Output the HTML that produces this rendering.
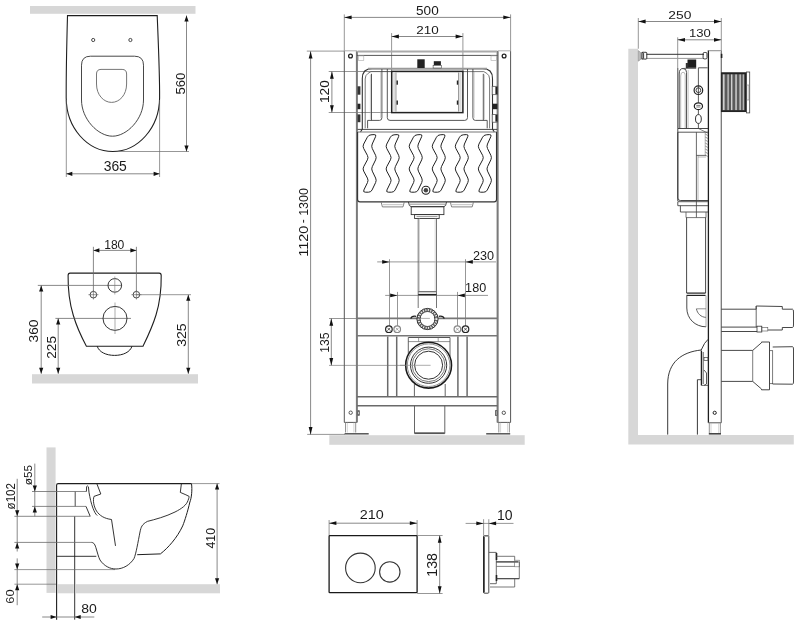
<!DOCTYPE html>
<html><head><meta charset="utf-8"><style>
html,body{margin:0;padding:0;background:#fff;}
svg{display:block;will-change:transform;}
text{font-family:"Liberation Sans",sans-serif;fill:#1a1a1a;}
</style></head><body>
<svg width="800" height="626" viewBox="0 0 800 626">
<rect width="800" height="626" fill="#fff"/>
<rect x="30" y="6" width="165.5" height="7.8" fill="#d7d7d7"/>
<path d="M67.5,15.6 L157.2,15.6 C158.4,45 159.8,75 159.6,98 C159.3,128 138,151.5 112.8,151.5 C87.5,151.5 66.4,128 66.2,98 C66.1,75 66.7,45 67.5,15.6 Z" stroke="#1e1e1e" stroke-width="1.1" fill="none" />
<circle cx="93.2" cy="40" r="1.6" stroke="#1e1e1e" stroke-width="0.8" fill="none"/>
<circle cx="130.4" cy="40" r="1.6" stroke="#1e1e1e" stroke-width="0.8" fill="none"/>
<path d="M90.5,56.2 L134.5,56.2 Q143.5,56.2 143.5,65.2 L143.5,100 C143.5,119 127,136.2 112.5,136.2 C98,136.2 81.5,119 81.5,100 L81.5,65.2 Q81.5,56.2 90.5,56.2 Z" stroke="#333" stroke-width="0.9" fill="none" />
<path d="M101,69.4 L122.1,69.4 Q126.6,69.4 126.6,74 L126.6,84 C126.6,95 119.5,102.4 111.6,102.4 C103.7,102.4 96.5,95 96.5,84 L96.5,74 Q96.5,69.4 101,69.4 Z" stroke="#666" stroke-width="0.9" fill="none" />
<line x1="66.3" y1="100" x2="66.3" y2="177" stroke="#6a6a6a" stroke-width="0.7" />
<line x1="159.6" y1="100" x2="159.6" y2="177" stroke="#6a6a6a" stroke-width="0.7" />
<line x1="66.3" y1="173.8" x2="159.6" y2="173.8" stroke="#6a6a6a" stroke-width="0.8" />
<polygon points="66.3,173.8 72.3,171.7 72.3,175.9" fill="#111"/>
<polygon points="159.6,173.8 153.6,171.7 153.6,175.9" fill="#111"/>
<text transform="translate(103.69,170.61) scale(1.011,1)" font-family="Liberation Sans" font-size="13.73">365</text>
<line x1="118" y1="151.5" x2="189" y2="151.5" stroke="#6a6a6a" stroke-width="0.7" />
<line x1="186.5" y1="15.6" x2="186.5" y2="151.5" stroke="#6a6a6a" stroke-width="0.8" />
<polygon points="186.5,15.6 184.4,21.6 188.6,21.6" fill="#111"/>
<polygon points="186.5,151.5 184.4,145.5 188.6,145.5" fill="#111"/>
<text transform="translate(184.58,94.62) rotate(-90) scale(1.059,1)" font-family="Liberation Sans" font-size="12.39">560</text>
<path d="M70.1,273.1 L159.2,273.1 Q161.2,273.1 161.2,275.5 C161.4,290 160,302 156,315 C152,328 147,338 143,346.2 L86.4,346.2 C82,338 77,328 73.2,315 C69.3,302 67.9,290 68.1,275.5 Q68.1,273.1 70.1,273.1 Z" stroke="#1e1e1e" stroke-width="1.1" fill="none" />
<path d="M97.2,346.2 C99,352 106,355.4 114.6,355.4 C123.2,355.4 130.2,352 132,346.2" stroke="#1e1e1e" stroke-width="1" fill="none" />
<line x1="37.8" y1="285.4" x2="122" y2="285.4" stroke="#6a6a6a" stroke-width="0.8" />
<circle cx="114.8" cy="285.4" r="6.8" stroke="#1e1e1e" stroke-width="0.9" fill="none"/>
<line x1="114.8" y1="276.5" x2="114.8" y2="294.5" stroke="#777" stroke-width="0.6" />
<line x1="55.4" y1="318.4" x2="131" y2="318.4" stroke="#555" stroke-width="0.7" />
<circle cx="115" cy="318.4" r="12" stroke="#1e1e1e" stroke-width="0.9" fill="none"/>
<line x1="115" y1="302.5" x2="115" y2="334" stroke="#777" stroke-width="0.6" />
<circle cx="93.4" cy="294.7" r="3.3" stroke="#1e1e1e" stroke-width="0.8" fill="none"/>
<line x1="88.4" y1="294.7" x2="98.4" y2="294.7" stroke="#555" stroke-width="0.6" />
<line x1="93.4" y1="290" x2="93.4" y2="299.5" stroke="#555" stroke-width="0.6" />
<circle cx="136.4" cy="294.7" r="3.3" stroke="#1e1e1e" stroke-width="0.8" fill="none"/>
<line x1="131.4" y1="294.7" x2="141.4" y2="294.7" stroke="#555" stroke-width="0.6" />
<line x1="136.4" y1="290" x2="136.4" y2="299.5" stroke="#555" stroke-width="0.6" />
<line x1="136.4" y1="294.7" x2="191" y2="294.7" stroke="#6a6a6a" stroke-width="0.7" />
<line x1="93.4" y1="246.8" x2="93.4" y2="291" stroke="#6a6a6a" stroke-width="0.8" />
<line x1="136.4" y1="246.8" x2="136.4" y2="291" stroke="#6a6a6a" stroke-width="0.8" />
<line x1="93.4" y1="250.4" x2="136.4" y2="250.4" stroke="#6a6a6a" stroke-width="0.8" />
<polygon points="93.4,250.4 99.4,248.3 99.4,252.5" fill="#111"/>
<polygon points="136.4,250.4 130.4,248.3 130.4,252.5" fill="#111"/>
<text transform="translate(104.15,248.62) scale(0.970,1)" font-family="Liberation Mono" font-size="12.50">180</text>
<rect x="32" y="374.2" width="166" height="9.3" fill="#d7d7d7"/>
<line x1="41.2" y1="285.4" x2="41.2" y2="373.8" stroke="#6a6a6a" stroke-width="0.8" />
<polygon points="41.2,285.4 39.1,291.4 43.3,291.4" fill="#111"/>
<polygon points="41.2,373.8 39.1,367.8 43.3,367.8" fill="#111"/>
<line x1="58.2" y1="318.4" x2="58.2" y2="373.8" stroke="#6a6a6a" stroke-width="0.8" />
<polygon points="58.2,318.4 56.1,324.4 60.3,324.4" fill="#111"/>
<polygon points="58.2,373.8 56.1,367.8 60.3,367.8" fill="#111"/>
<line x1="188.3" y1="294.7" x2="188.3" y2="373.8" stroke="#6a6a6a" stroke-width="0.8" />
<polygon points="188.3,294.7 186.2,300.7 190.4,300.7" fill="#111"/>
<polygon points="188.3,373.8 186.2,367.8 190.4,367.8" fill="#111"/>
<text transform="translate(38.07,342.56) rotate(-90) scale(1.071,1)" font-family="Liberation Sans" font-size="12.96">360</text>
<text transform="translate(56.17,358.79) rotate(-90) scale(1.099,1)" font-family="Liberation Sans" font-size="12.54">225</text>
<text transform="translate(185.87,346.87) rotate(-90) scale(1.079,1)" font-family="Liberation Sans" font-size="13.10">325</text>
<rect x="46.5" y="447.4" width="9.1" height="145.5" fill="#d7d7d7"/>
<rect x="57.6" y="584.2" width="16.2" height="9.1" fill="#d7d7d7"/>
<rect x="75.8" y="584.2" width="144.2" height="9.1" fill="#d7d7d7"/>
<path d="M56.6,619.7 L56.6,485.2 Q56.6,483.6 58.2,483.6 L191.5,483.6" stroke="#1e1e1e" stroke-width="1.1" fill="none" />
<line x1="191.5" y1="483.6" x2="219.5" y2="483.6" stroke="#6a6a6a" stroke-width="0.7" />
<line x1="74.7" y1="516.3" x2="74.7" y2="619.7" stroke="#1e1e1e" stroke-width="0.9" />
<line x1="75.2" y1="491.5" x2="75.2" y2="506.4" stroke="#1e1e1e" stroke-width="0.8" />
<line x1="32" y1="491.5" x2="86.4" y2="491.5" stroke="#6a6a6a" stroke-width="0.8" />
<line x1="32" y1="506.4" x2="86" y2="506.4" stroke="#6a6a6a" stroke-width="0.8" />
<line x1="14.4" y1="516.3" x2="90.2" y2="516.3" stroke="#6a6a6a" stroke-width="0.8" />
<line x1="14.4" y1="542.4" x2="91.5" y2="542.4" stroke="#6a6a6a" stroke-width="0.8" />
<line x1="14.4" y1="569.6" x2="115" y2="569.6" stroke="#6a6a6a" stroke-width="0.7" />
<line x1="14.4" y1="584.2" x2="56" y2="584.2" stroke="#6a6a6a" stroke-width="0.7" />
<line x1="56.6" y1="556.3" x2="96.3" y2="556.3" stroke="#1e1e1e" stroke-width="0.9" />
<path d="M86.4,491.5 L86.6,486.6 Q87.5,485.2 88.4,486.8 L89,492.4 C90,498 91,503 93,508.3 C94.5,512 95.5,514 97.2,515.5" stroke="#1e1e1e" stroke-width="0.9" fill="none" />
<path d="M86,506.4 L90.2,516.3" stroke="#1e1e1e" stroke-width="0.9" fill="none" />
<path d="M96.8,483.6 L100.8,494 L94,496.4 C92.8,500 93.5,506 96.5,511 C99.5,515.5 104,518.5 111.5,519.5 L115.5,545.9" stroke="#1e1e1e" stroke-width="0.9" fill="none" />
<path d="M91.5,542.4 C94,542.6 95,544.5 96.3,549 C97.5,553 98.5,557 100,560 C104,566 110,569 116,569 C123,569 130,565 134,558.5 C136,554 138,542 140,532 C141,527 142,524.3 147.4,521.4 C155,519.5 166,516.5 175,512 C182,508.5 186.5,505 188,500.5 C189,498 189.2,496.8 189.1,496.4 L185.9,494.8 L180.3,492.4 L181.4,483.6" stroke="#1e1e1e" stroke-width="0.9" fill="none" />
<path d="M191.5,483.6 C192.4,490 191.5,498 189.9,502 C187.5,512 185,520 182.7,525.9 C177,538 168,548 160.4,553.9 L137.2,554.7" stroke="#1e1e1e" stroke-width="1" fill="none" />
<line x1="34.8" y1="463.6" x2="34.8" y2="516.3" stroke="#6a6a6a" stroke-width="0.8" />
<polygon points="34.8,491.5 32.7,485.5 36.9,485.5" fill="#111"/>
<polygon points="34.8,506.4 32.7,512.4 36.9,512.4" fill="#111"/>
<line x1="17.2" y1="478.8" x2="17.2" y2="551.5" stroke="#6a6a6a" stroke-width="0.8" />
<polygon points="17.2,516.3 15.1,510.3 19.3,510.3" fill="#111"/>
<polygon points="17.2,542.4 15.1,548.4 19.3,548.4" fill="#111"/>
<line x1="17.2" y1="558.4" x2="17.2" y2="605.2" stroke="#6a6a6a" stroke-width="0.8" />
<polygon points="17.2,569.6 15.1,563.6 19.3,563.6" fill="#111"/>
<polygon points="17.2,584.2 15.1,590.2 19.3,590.2" fill="#111"/>
<text transform="translate(32.29,485.25) rotate(-90) scale(1.067,1)" font-family="Liberation Mono" font-size="11.04">ø55</text>
<text transform="translate(15.18,509.44) rotate(-90) scale(0.951,1)" font-family="Liberation Mono" font-size="12.21">ø102</text>
<text transform="translate(13.64,603.74) rotate(-90) scale(1.119,1)" font-family="Liberation Sans" font-size="11.48">60</text>
<line x1="42.2" y1="617" x2="94.3" y2="617" stroke="#6a6a6a" stroke-width="0.8" />
<polygon points="56.6,617 50.6,614.9 50.6,619.1" fill="#111"/>
<polygon points="74.7,617 80.7,614.9 80.7,619.1" fill="#111"/>
<text transform="translate(81.27,612.98) scale(1.143,1)" font-family="Liberation Sans" font-size="12.25">80</text>
<line x1="217.1" y1="483.6" x2="217.1" y2="584.2" stroke="#6a6a6a" stroke-width="0.8" />
<polygon points="217.1,483.6 215.0,489.6 219.2,489.6" fill="#111"/>
<polygon points="217.1,584.2 215.0,578.2 219.2,578.2" fill="#111"/>
<text transform="translate(214.87,548.62) rotate(-90) scale(0.939,1)" font-family="Liberation Mono" font-size="13.24">410</text>
<line x1="344.3" y1="14.4" x2="344.3" y2="51" stroke="#6a6a6a" stroke-width="0.7" />
<line x1="510.6" y1="14.4" x2="510.6" y2="51" stroke="#6a6a6a" stroke-width="0.7" />
<line x1="344.3" y1="17.4" x2="510.6" y2="17.4" stroke="#6a6a6a" stroke-width="0.8" />
<polygon points="344.3,17.4 351.6,15.5 351.6,19.3" fill="#111"/>
<polygon points="510.6,17.4 503.3,15.5 503.3,19.3" fill="#111"/>
<text transform="translate(416.06,14.63) scale(1.133,1)" font-family="Liberation Sans" font-size="11.97">500</text>
<line x1="391.6" y1="33.1" x2="391.6" y2="71.5" stroke="#6a6a6a" stroke-width="0.7" />
<line x1="462.9" y1="33.1" x2="462.9" y2="71.5" stroke="#6a6a6a" stroke-width="0.7" />
<line x1="391.6" y1="36.5" x2="462.9" y2="36.5" stroke="#6a6a6a" stroke-width="0.8" />
<polygon points="391.6,36.5 398.9,34.6 398.9,38.4" fill="#111"/>
<polygon points="462.9,36.5 455.6,34.6 455.6,38.4" fill="#111"/>
<text transform="translate(416.23,33.88) scale(1.138,1)" font-family="Liberation Sans" font-size="11.83">210</text>
<line x1="306.8" y1="51.1" x2="344.3" y2="51.1" stroke="#6a6a6a" stroke-width="0.7" />
<line x1="307.2" y1="434.4" x2="345" y2="434.4" stroke="#6a6a6a" stroke-width="0.7" />
<line x1="310.6" y1="51.3" x2="310.6" y2="434.4" stroke="#6a6a6a" stroke-width="0.8" />
<polygon points="310.6,51.3 308.7,58.6 312.5,58.6" fill="#111"/>
<polygon points="310.6,434.4 308.7,427.1 312.5,427.1" fill="#111"/>
<text transform="translate(308.08,215.83) rotate(-90) scale(1.029,1)" font-family="Liberation Sans" font-size="12.11">1300</text>
<text transform="translate(308.08,256.78) rotate(-90) scale(1.193,1)" font-family="Liberation Sans" font-size="12.11">1120</text>
<line x1="303.6" y1="219.8" x2="303.6" y2="222.7" stroke="#1a1a1a" stroke-width="1.0" />
<line x1="328.7" y1="71.5" x2="391.6" y2="71.5" stroke="#6a6a6a" stroke-width="0.7" />
<line x1="328.7" y1="112.5" x2="391.6" y2="112.5" stroke="#6a6a6a" stroke-width="0.7" />
<line x1="331.9" y1="71.5" x2="331.9" y2="112.5" stroke="#6a6a6a" stroke-width="0.8" />
<polygon points="331.9,71.5 330.0,78.8 333.8,78.8" fill="#111"/>
<polygon points="331.9,112.5 330.0,105.2 333.8,105.2" fill="#111"/>
<text transform="translate(328.88,103.03) rotate(-90) scale(1.129,1)" font-family="Liberation Sans" font-size="12.11">120</text>
<line x1="329" y1="318.5" x2="357" y2="318.5" stroke="#6a6a6a" stroke-width="0.7" />
<line x1="329" y1="365.4" x2="428" y2="365.4" stroke="#666" stroke-width="0.6" />
<line x1="331.3" y1="318.5" x2="331.3" y2="365.4" stroke="#6a6a6a" stroke-width="0.8" />
<polygon points="331.3,318.5 329.4,325.8 333.2,325.8" fill="#111"/>
<polygon points="331.3,365.4 329.4,358.1 333.2,358.1" fill="#111"/>
<text transform="translate(328.58,352.85) rotate(-90) scale(0.994,1)" font-family="Liberation Mono" font-size="12.21">135</text>
<line x1="377.2" y1="261.9" x2="496" y2="261.9" stroke="#6a6a6a" stroke-width="0.7" />
<polygon points="389.5,261.9 382.2,260.0 382.2,263.8" fill="#111"/>
<polygon points="465.5,261.9 472.8,260.0 472.8,263.8" fill="#111"/>
<text transform="translate(473.02,259.68) scale(1.048,1)" font-family="Liberation Mono" font-size="12.06">230</text>
<line x1="385.2" y1="295.4" x2="488" y2="295.4" stroke="#6a6a6a" stroke-width="0.7" />
<polygon points="397.5,295.4 390.2,293.5 390.2,297.3" fill="#111"/>
<polygon points="457.5,295.4 464.8,293.5 464.8,297.3" fill="#111"/>
<text transform="translate(465.12,292.38) scale(1.023,1)" font-family="Liberation Mono" font-size="12.35">180</text>
<line x1="389.5" y1="259.2" x2="389.5" y2="326" stroke="#6a6a6a" stroke-width="0.7" />
<line x1="397.5" y1="291.9" x2="397.5" y2="326" stroke="#6a6a6a" stroke-width="0.7" />
<line x1="457.5" y1="291.9" x2="457.5" y2="326" stroke="#6a6a6a" stroke-width="0.7" />
<line x1="465.5" y1="259.2" x2="465.5" y2="326" stroke="#6a6a6a" stroke-width="0.7" />
<rect x="329.3" y="435.2" width="195.4" height="9.6" fill="#d7d7d7"/>
<line x1="344.3" y1="51.1" x2="344.3" y2="422.4" stroke="#555" stroke-width="1.0" />
<line x1="344.3" y1="422.4" x2="356.9" y2="422.4" stroke="#555" stroke-width="1.0" />
<line x1="345.5" y1="422.4" x2="345.5" y2="432.5" stroke="#888" stroke-width="0.9" />
<line x1="355.7" y1="422.4" x2="355.7" y2="432.5" stroke="#888" stroke-width="0.9" />
<line x1="347.3" y1="422.6" x2="347.3" y2="432.5" stroke="#bbb" stroke-width="0.6" />
<line x1="353.9" y1="422.6" x2="353.9" y2="432.5" stroke="#bbb" stroke-width="0.6" />
<line x1="497.6" y1="51.1" x2="497.6" y2="422.4" stroke="#555" stroke-width="1.0" />
<line x1="497.6" y1="422.4" x2="510.6" y2="422.4" stroke="#555" stroke-width="1.0" />
<line x1="498.8" y1="422.4" x2="498.8" y2="432.5" stroke="#888" stroke-width="0.9" />
<line x1="509.40000000000003" y1="422.4" x2="509.40000000000003" y2="432.5" stroke="#888" stroke-width="0.9" />
<line x1="500.6" y1="422.6" x2="500.6" y2="432.5" stroke="#bbb" stroke-width="0.6" />
<line x1="507.6" y1="422.6" x2="507.6" y2="432.5" stroke="#bbb" stroke-width="0.6" />
<line x1="356.9" y1="51.3" x2="356.9" y2="422.4" stroke="#7a7a7a" stroke-width="2.0" />
<line x1="497.6" y1="51.3" x2="497.6" y2="422.4" stroke="#7a7a7a" stroke-width="2.0" />
<line x1="510.6" y1="51.1" x2="510.6" y2="422.4" stroke="#555" stroke-width="1.0" />
<line x1="344.6" y1="433.8" x2="368.7" y2="433.8" stroke="#555" stroke-width="1.5" />
<line x1="486.2" y1="433.8" x2="510.2" y2="433.8" stroke="#555" stroke-width="1.5" />
<circle cx="350.5" cy="56" r="1.9" stroke="#222" stroke-width="1.3" fill="none"/>
<circle cx="504.1" cy="56" r="1.9" stroke="#222" stroke-width="1.3" fill="none"/>
<circle cx="350.7" cy="412.7" r="1.7" stroke="#333" stroke-width="0.8" fill="none"/>
<circle cx="503.8" cy="412.8" r="1.7" stroke="#333" stroke-width="0.8" fill="none"/>
<rect x="357.9" y="410.7" width="1.4" height="4.6" fill="#fff" stroke="#333" stroke-width="0.7" rx="0" />
<rect x="495.5" y="410.7" width="1.4" height="4.6" fill="#fff" stroke="#333" stroke-width="0.7" rx="0" />
<line x1="357.5" y1="51.5" x2="497" y2="51.5" stroke="#aaa" stroke-width="2.2" />
<line x1="344.3" y1="50.8" x2="357" y2="50.8" stroke="#999" stroke-width="0.8" />
<line x1="497.6" y1="50.8" x2="510.6" y2="50.8" stroke="#999" stroke-width="0.8" />
<line x1="356.9" y1="55.4" x2="497.6" y2="55.4" stroke="#555" stroke-width="1.0" />
<rect x="358.4" y="55.9" width="5.4" height="4.6" fill="none" stroke="#aaa" stroke-width="0.6" rx="0" />
<rect x="491.0" y="55.9" width="5.4" height="4.6" fill="none" stroke="#aaa" stroke-width="0.6" rx="0" />
<path d="M360.5,132 L362.3,129 L362.3,78.5 Q362.3,68.6 372.2,68.6 L482.6,68.6 Q492.5,68.6 492.5,78.5 L492.5,129 L494.3,132" stroke="#333" stroke-width="1.1" fill="none" />
<path d="M365.2,128.3 L365.2,79 Q365.2,75.2 368,73.4 L371,71.6 L483.8,71.6 L486.8,73.4 Q489.6,75.2 489.6,79 L489.6,128.3" stroke="#555" stroke-width="0.8" fill="none" />
<line x1="368" y1="68.6" x2="487" y2="68.6" stroke="#999" stroke-width="1.6" />
<path d="M381.9,69 L381.9,117.6 Q381.9,120.4 379.5,120.4 L367.6,120.4 L367.6,128.3" stroke="#444" stroke-width="0.9" fill="none" />
<line x1="380.7" y1="72" x2="380.7" y2="118" stroke="#aaa" stroke-width="0.6" />
<line x1="371.5" y1="73.8" x2="371.5" y2="120.4" stroke="#444" stroke-width="0.9" />
<line x1="370.4" y1="74.5" x2="370.4" y2="119.5" stroke="#aaa" stroke-width="0.6" />
<path d="M472.9,69 L472.9,117.6 Q472.9,120.4 475.3,120.4 L487.2,120.4 L487.2,128.3" stroke="#444" stroke-width="0.9" fill="none" />
<line x1="474.1" y1="72" x2="474.1" y2="118" stroke="#aaa" stroke-width="0.6" />
<line x1="483.3" y1="73.8" x2="483.3" y2="120.4" stroke="#444" stroke-width="0.9" />
<line x1="484.4" y1="74.5" x2="484.4" y2="119.5" stroke="#aaa" stroke-width="0.6" />
<path d="M387.3,69 L387.3,117.6 Q387.3,120.4 390,120.4 L464.8,120.4 Q467.5,120.4 467.5,117.6 L467.5,69" stroke="#444" stroke-width="0.9" fill="none" />
<rect x="391.7" y="71.4" width="71.2" height="41.2" fill="none" stroke="#222" stroke-width="1.5" rx="0" />
<line x1="395.9" y1="72.5" x2="395.9" y2="111.6" stroke="#777" stroke-width="0.9" />
<line x1="458.7" y1="72.5" x2="458.7" y2="111.6" stroke="#777" stroke-width="0.9" />
<rect x="393.2" y="72.3" width="2.2" height="39.4" fill="#ddd" stroke="none" stroke-width="0" rx="0" />
<rect x="459.3" y="72.3" width="2.2" height="39.4" fill="#ddd" stroke="none" stroke-width="0" rx="0" />
<rect x="396.5" y="80.5" width="1.4" height="4.2" fill="#222" stroke="none" stroke-width="0" rx="0" />
<rect x="456.8" y="80.5" width="1.4" height="4.2" fill="#222" stroke="none" stroke-width="0" rx="0" />
<rect x="396.5" y="100.5" width="1.4" height="4.2" fill="#222" stroke="none" stroke-width="0" rx="0" />
<rect x="456.8" y="100.5" width="1.4" height="4.2" fill="#222" stroke="none" stroke-width="0" rx="0" />
<rect x="417.3" y="59.3" width="7.4" height="8.7" fill="#222" stroke="none" stroke-width="0" rx="0" />
<rect x="433.8" y="61.2" width="7.1" height="4.2" fill="#222" stroke="none" stroke-width="0" rx="0" />
<rect x="433.1" y="65.4" width="8.5" height="2.6" fill="#fff" stroke="#444" stroke-width="0.6" rx="0" />
<rect x="357.5" y="86.3" width="2.9" height="8.400000000000006" fill="#333" stroke="none" stroke-width="0" rx="0" />
<rect x="492.2" y="86.3" width="5.2" height="8.400000000000006" fill="#fff" stroke="#444" stroke-width="0.7" rx="0" />
<rect x="495.4" y="86.8" width="2" height="7.400000000000006" fill="#222" stroke="none" stroke-width="0" rx="0" />
<rect x="357.5" y="103.7" width="2.9" height="5.5" fill="#222" stroke="none" stroke-width="0" rx="0" />
<rect x="492.2" y="103.7" width="5.2" height="5.5" fill="#222" stroke="none" stroke-width="0" rx="0" />
<rect x="357.5" y="114.4" width="2.9" height="7.799999999999997" fill="#333" stroke="none" stroke-width="0" rx="0" />
<rect x="492.2" y="114.4" width="5.2" height="7.799999999999997" fill="#fff" stroke="#444" stroke-width="0.7" rx="0" />
<rect x="495.4" y="114.9" width="2" height="6.799999999999997" fill="#222" stroke="none" stroke-width="0" rx="0" />
<line x1="357.5" y1="129.4" x2="497.2" y2="129.4" stroke="#333" stroke-width="0.9" />
<line x1="357.5" y1="132" x2="497.2" y2="132" stroke="#777" stroke-width="1.0" />
<path d="M357.6,132 L357.6,199.6 Q357.6,201.9 359.9,201.9 L494.2,201.9 Q496.5,201.9 496.5,199.6 L496.5,132" stroke="#333" stroke-width="1.1" fill="none" />
<path d="M374.11,134.58 Q376.60,134.40 375.57,136.68 L372.23,144.02 Q371.20,146.30 372.29,148.55 L375.61,155.35 Q376.70,157.60 375.61,159.85 L372.29,166.65 Q371.20,168.90 372.29,171.15 L375.61,178.05 Q376.70,180.30 375.62,182.55 L372.08,189.95 Q371.00,192.20 368.50,192.20 L365.30,192.20 Q362.80,192.20 363.90,189.95 L367.50,182.55 Q368.60,180.30 367.42,178.10 L363.68,171.10 Q362.50,168.90 363.69,166.70 L367.41,159.80 Q368.60,157.60 367.41,155.40 L363.69,148.50 Q362.50,146.30 363.67,144.09 L367.33,137.21 Q368.50,135.00 370.99,134.82 Z" stroke="#222" stroke-width="1.0" fill="none" />
<path d="M397.16,134.58 Q399.65,134.40 398.62,136.68 L395.28,144.02 Q394.25,146.30 395.34,148.55 L398.66,155.35 Q399.75,157.60 398.66,159.85 L395.34,166.65 Q394.25,168.90 395.34,171.15 L398.66,178.05 Q399.75,180.30 398.67,182.55 L395.13,189.95 Q394.05,192.20 391.55,192.20 L388.35,192.20 Q385.85,192.20 386.95,189.95 L390.55,182.55 Q391.65,180.30 390.47,178.10 L386.73,171.10 Q385.55,168.90 386.74,166.70 L390.46,159.80 Q391.65,157.60 390.46,155.40 L386.74,148.50 Q385.55,146.30 386.72,144.09 L390.38,137.21 Q391.55,135.00 394.04,134.82 Z" stroke="#222" stroke-width="1.0" fill="none" />
<path d="M420.21,134.58 Q422.70,134.40 421.67,136.68 L418.33,144.02 Q417.30,146.30 418.39,148.55 L421.71,155.35 Q422.80,157.60 421.71,159.85 L418.39,166.65 Q417.30,168.90 418.39,171.15 L421.71,178.05 Q422.80,180.30 421.72,182.55 L418.18,189.95 Q417.10,192.20 414.60,192.20 L411.40,192.20 Q408.90,192.20 410.00,189.95 L413.60,182.55 Q414.70,180.30 413.52,178.10 L409.78,171.10 Q408.60,168.90 409.79,166.70 L413.51,159.80 Q414.70,157.60 413.51,155.40 L409.79,148.50 Q408.60,146.30 409.77,144.09 L413.43,137.21 Q414.60,135.00 417.09,134.82 Z" stroke="#222" stroke-width="1.0" fill="none" />
<path d="M443.26,134.58 Q445.75,134.40 444.72,136.68 L441.38,144.02 Q440.35,146.30 441.44,148.55 L444.76,155.35 Q445.85,157.60 444.76,159.85 L441.44,166.65 Q440.35,168.90 441.44,171.15 L444.76,178.05 Q445.85,180.30 444.77,182.55 L441.23,189.95 Q440.15,192.20 437.65,192.20 L434.45,192.20 Q431.95,192.20 433.05,189.95 L436.65,182.55 Q437.75,180.30 436.57,178.10 L432.83,171.10 Q431.65,168.90 432.84,166.70 L436.56,159.80 Q437.75,157.60 436.56,155.40 L432.84,148.50 Q431.65,146.30 432.82,144.09 L436.48,137.21 Q437.65,135.00 440.14,134.82 Z" stroke="#222" stroke-width="1.0" fill="none" />
<path d="M466.31,134.58 Q468.80,134.40 467.77,136.68 L464.43,144.02 Q463.40,146.30 464.49,148.55 L467.81,155.35 Q468.90,157.60 467.81,159.85 L464.49,166.65 Q463.40,168.90 464.49,171.15 L467.81,178.05 Q468.90,180.30 467.82,182.55 L464.28,189.95 Q463.20,192.20 460.70,192.20 L457.50,192.20 Q455.00,192.20 456.10,189.95 L459.70,182.55 Q460.80,180.30 459.62,178.10 L455.88,171.10 Q454.70,168.90 455.89,166.70 L459.61,159.80 Q460.80,157.60 459.61,155.40 L455.89,148.50 Q454.70,146.30 455.87,144.09 L459.53,137.21 Q460.70,135.00 463.19,134.82 Z" stroke="#222" stroke-width="1.0" fill="none" />
<path d="M489.36,134.58 Q491.85,134.40 490.82,136.68 L487.48,144.02 Q486.45,146.30 487.54,148.55 L490.86,155.35 Q491.95,157.60 490.86,159.85 L487.54,166.65 Q486.45,168.90 487.54,171.15 L490.86,178.05 Q491.95,180.30 490.87,182.55 L487.33,189.95 Q486.25,192.20 483.75,192.20 L480.55,192.20 Q478.05,192.20 479.15,189.95 L482.75,182.55 Q483.85,180.30 482.67,178.10 L478.93,171.10 Q477.75,168.90 478.94,166.70 L482.66,159.80 Q483.85,157.60 482.66,155.40 L478.94,148.50 Q477.75,146.30 478.92,144.09 L482.58,137.21 Q483.75,135.00 486.24,134.82 Z" stroke="#222" stroke-width="1.0" fill="none" />
<circle cx="425.9" cy="190.3" r="4.0" stroke="#222" stroke-width="1.1" fill="none"/>
<circle cx="425.9" cy="190.3" r="2.2" stroke="#1e1e1e" stroke-width="0" fill="#444"/>
<path d="M381.2,202.3 L382.4,206.9 L403.0,206.9 L404.2,202.3" stroke="#666" stroke-width="0.8" fill="none" />
<line x1="382.7" y1="204.6" x2="402.7" y2="204.6" stroke="#ccc" stroke-width="1.2" />
<path d="M450.4,202.3 L451.59999999999997,206.9 L472.2,206.9 L473.4,202.3" stroke="#666" stroke-width="0.8" fill="none" />
<line x1="451.9" y1="204.6" x2="471.9" y2="204.6" stroke="#ccc" stroke-width="1.2" />
<path d="M408.4,202 Q409,206.7 411.2,206.7 L443.9,206.7 Q446,206.7 446.5,202" stroke="#333" stroke-width="0.9" fill="none" />
<line x1="409.2" y1="204.2" x2="445.8" y2="204.2" stroke="#888" stroke-width="0.9" />
<rect x="411.2" y="206.7" width="32.7" height="7.9" fill="none" stroke="#333" stroke-width="0.9" rx="0" />
<rect x="414.6" y="214.6" width="24.6" height="3.9" fill="none" stroke="#333" stroke-width="0.9" rx="0" />
<line x1="416.5" y1="216.6" x2="437.5" y2="216.6" stroke="#999" stroke-width="1.0" />
<line x1="418.2" y1="218.5" x2="418.2" y2="308" stroke="#666" stroke-width="0.9" />
<line x1="419.5" y1="218.5" x2="419.5" y2="291" stroke="#bbb" stroke-width="0.6" />
<line x1="436.5" y1="218.5" x2="436.5" y2="308" stroke="#666" stroke-width="0.9" />
<line x1="435.2" y1="218.5" x2="435.2" y2="291" stroke="#bbb" stroke-width="0.6" />
<rect x="418.2" y="291.1" width="18.3" height="1.2" fill="#666" stroke="none" stroke-width="0" rx="0" />
<rect x="418.2" y="293.9" width="18.3" height="1.4" fill="#222" stroke="none" stroke-width="0" rx="0" />
<line x1="357" y1="318.4" x2="497.6" y2="318.4" stroke="#777" stroke-width="1.6" />
<line x1="357" y1="335.8" x2="497.6" y2="335.8" stroke="#777" stroke-width="1.5" />
<circle cx="427.5" cy="319" r="9.0" stroke="#666" stroke-width="3.0" fill="none"/>
<circle cx="427.5" cy="319" r="9.0" stroke="#fff" stroke-width="3.2" fill="none" stroke-dasharray="0.9 1.6"/>
<circle cx="427.5" cy="319" r="10.6" stroke="#333" stroke-width="1.0" fill="none"/>
<circle cx="427.5" cy="319" r="7.4" stroke="#333" stroke-width="1.0" fill="none"/>
<circle cx="427.5" cy="319" r="6.8" stroke="#1e1e1e" stroke-width="0" fill="#fff"/>
<line x1="420.4" y1="318.4" x2="429.9" y2="318.4" stroke="#999" stroke-width="0.8" />
<path d="M410.8,318.6 Q411.5,315.6 416.2,316.3" stroke="#222" stroke-width="1.3" fill="none" />
<path d="M444.2,318.6 Q443.5,315.6 438.8,316.3" stroke="#222" stroke-width="1.3" fill="none" />
<circle cx="388.9" cy="329.2" r="3.3" stroke="#222" stroke-width="1.2" fill="none"/>
<line x1="387.4" y1="327.7" x2="390.4" y2="330.7" stroke="#222" stroke-width="0.7" />
<line x1="387.4" y1="330.7" x2="390.4" y2="327.7" stroke="#222" stroke-width="0.7" />
<circle cx="397.2" cy="329.2" r="3.3" stroke="#888" stroke-width="1.2" fill="none"/>
<line x1="395.7" y1="327.7" x2="398.7" y2="330.7" stroke="#888" stroke-width="0.7" />
<line x1="395.7" y1="330.7" x2="398.7" y2="327.7" stroke="#888" stroke-width="0.7" />
<circle cx="457.4" cy="329.2" r="3.3" stroke="#888" stroke-width="1.2" fill="none"/>
<line x1="455.9" y1="327.7" x2="458.9" y2="330.7" stroke="#888" stroke-width="0.7" />
<line x1="455.9" y1="330.7" x2="458.9" y2="327.7" stroke="#888" stroke-width="0.7" />
<circle cx="465.5" cy="329.2" r="3.3" stroke="#222" stroke-width="1.2" fill="none"/>
<line x1="464.0" y1="327.7" x2="467.0" y2="330.7" stroke="#222" stroke-width="0.7" />
<line x1="464.0" y1="330.7" x2="467.0" y2="327.7" stroke="#222" stroke-width="0.7" />
<line x1="387.7" y1="336.5" x2="387.7" y2="396.6" stroke="#6a6a6a" stroke-width="1.5" />
<line x1="396.7" y1="336.5" x2="396.7" y2="396.6" stroke="#6a6a6a" stroke-width="1.5" />
<line x1="457.9" y1="336.5" x2="457.9" y2="396.6" stroke="#6a6a6a" stroke-width="1.5" />
<line x1="467.1" y1="336.5" x2="467.1" y2="396.6" stroke="#6a6a6a" stroke-width="1.5" />
<line x1="408.3" y1="337.5" x2="450" y2="337.5" stroke="#555" stroke-width="1.0" />
<line x1="408.3" y1="341.6" x2="450" y2="341.6" stroke="#888" stroke-width="0.9" />
<line x1="418.6" y1="337.8" x2="418.6" y2="341.6" stroke="#777" stroke-width="0.7" />
<line x1="438.2" y1="337.8" x2="438.2" y2="341.6" stroke="#777" stroke-width="0.7" />
<line x1="408.3" y1="337.5" x2="408.3" y2="356" stroke="#555" stroke-width="0.9" />
<line x1="450" y1="337.5" x2="450" y2="356" stroke="#555" stroke-width="0.9" />
<circle cx="428.6" cy="365.2" r="21.8" stroke="#fff" stroke-width="3.4" fill="#fff"/>
<circle cx="428.6" cy="365.2" r="22.9" stroke="#1a1a1a" stroke-width="1.6" fill="none"/>
<circle cx="428.6" cy="365.2" r="21.3" stroke="#666" stroke-width="0.7" fill="none"/>
<circle cx="428.6" cy="365.2" r="18.1" stroke="#333" stroke-width="1.0" fill="none"/>
<circle cx="428.6" cy="365.2" r="16.4" stroke="#555" stroke-width="0.8" fill="none"/>
<circle cx="428.6" cy="365.2" r="14.0" stroke="#333" stroke-width="1.0" fill="none"/>
<line x1="400" y1="365.3" x2="430.6" y2="365.3" stroke="#888" stroke-width="0.7" />
<line x1="414.4" y1="384" x2="414.4" y2="396.6" stroke="#555" stroke-width="0.9" />
<line x1="445.2" y1="384" x2="445.2" y2="396.6" stroke="#555" stroke-width="0.9" />
<line x1="357" y1="396.7" x2="497.6" y2="396.7" stroke="#6a6a6a" stroke-width="1.5" />
<line x1="357" y1="405.8" x2="497.6" y2="405.8" stroke="#6a6a6a" stroke-width="1.5" />
<line x1="414.5" y1="405.8" x2="414.5" y2="433.5" stroke="#555" stroke-width="0.9" />
<line x1="444.8" y1="405.8" x2="444.8" y2="433.5" stroke="#555" stroke-width="0.9" />
<line x1="414.5" y1="433.2" x2="444.8" y2="433.2" stroke="#555" stroke-width="1.8" />
<path d="M628.3,48.7 L638,48.7 L638,435.1 L793.8,435.1 L793.8,444.6 L628.3,444.6 Z" fill="#d7d7d7"/>
<line x1="638.3" y1="18" x2="638.3" y2="48.7" stroke="#6a6a6a" stroke-width="0.7" />
<line x1="721.3" y1="18" x2="721.3" y2="50.2" stroke="#6a6a6a" stroke-width="0.7" />
<line x1="638.3" y1="21.5" x2="721.3" y2="21.5" stroke="#6a6a6a" stroke-width="0.8" />
<polygon points="638.3,21.5 645.6,19.6 645.6,23.4" fill="#111"/>
<polygon points="721.3,21.5 714.0,19.6 714.0,23.4" fill="#111"/>
<text transform="translate(668.31,18.78) scale(1.181,1)" font-family="Liberation Sans" font-size="11.69">250</text>
<line x1="677.7" y1="37.3" x2="677.7" y2="68" stroke="#6a6a6a" stroke-width="0.7" />
<line x1="677.7" y1="39.8" x2="721.3" y2="39.8" stroke="#6a6a6a" stroke-width="0.8" />
<polygon points="677.7,39.8 685.0,37.9 685.0,41.7" fill="#111"/>
<polygon points="721.3,39.8 714.0,37.9 714.0,41.7" fill="#111"/>
<text transform="translate(689.02,37.48) scale(1.134,1)" font-family="Liberation Sans" font-size="11.55">130</text>
<line x1="646.5" y1="54.3" x2="704" y2="54.3" stroke="#333" stroke-width="1.0" />
<line x1="646.5" y1="58.4" x2="704" y2="58.4" stroke="#999" stroke-width="1.0" />
<path d="M638.3,50.6 L640.6,52.5 L640.6,59.5 L638.3,61.2 Z" stroke="#777" stroke-width="0.5" fill="#bbb" />
<path d="M643.6,52.1 L642,52.6 L641.9,58.8 L643.6,59.3" stroke="#222" stroke-width="1.1" fill="none" />
<rect x="643.6" y="52.3" width="3.2" height="6.8" fill="none" stroke="#222" stroke-width="0.9" rx="0.8" />
<rect x="703.1" y="52.5" width="3.9" height="6.4" fill="none" stroke="#222" stroke-width="0.9" rx="1.2" />
<line x1="708.4" y1="50.2" x2="708.4" y2="422.8" stroke="#1e1e1e" stroke-width="1.3" />
<line x1="721.3" y1="50.2" x2="721.3" y2="422.8" stroke="#777" stroke-width="1.3" />
<line x1="708.4" y1="50.6" x2="721.3" y2="50.6" stroke="#999" stroke-width="1.0" />
<line x1="709" y1="51.6" x2="721" y2="51.6" stroke="#ddd" stroke-width="0.8" />
<line x1="708.4" y1="422.8" x2="721.3" y2="422.8" stroke="#555" stroke-width="1.0" />
<line x1="709.3" y1="422.8" x2="709.3" y2="433" stroke="#888" stroke-width="0.9" />
<line x1="720.4" y1="422.8" x2="720.4" y2="433" stroke="#888" stroke-width="0.9" />
<line x1="711" y1="423" x2="711" y2="433" stroke="#bbb" stroke-width="0.6" />
<line x1="718.7" y1="423" x2="718.7" y2="433" stroke="#bbb" stroke-width="0.6" />
<line x1="708.8" y1="433.8" x2="721" y2="433.8" stroke="#444" stroke-width="1.6" />
<circle cx="714.7" cy="412.8" r="1.6" stroke="#222" stroke-width="1.0" fill="none"/>
<line x1="721.6" y1="53.8" x2="721.6" y2="58" stroke="#222" stroke-width="1.6" />
<rect x="687.5" y="59.5" width="8.7" height="8.3" fill="#1e1e1e" stroke="none" stroke-width="0" rx="0" />
<rect x="685.8" y="63" width="2.5" height="5" fill="#333" stroke="none" stroke-width="0" rx="0" />
<line x1="683.5" y1="68.4" x2="696.2" y2="68.4" stroke="#444" stroke-width="0.8" />
<path d="M679.2,128.5 L679.2,74 Q679.2,68.5 683,68.5 Q686.6,68.5 686.6,72.5 L686.6,128.5" stroke="#333" stroke-width="0.9" fill="none" />
<path d="M680.7,128.5 L680.7,76 Q680.7,72.2 683,72.2 Q685.2,72.2 685.2,75 L685.2,128.5" stroke="#888" stroke-width="0.6" fill="none" />
<line x1="688.2" y1="70" x2="688.2" y2="128.5" stroke="#aaa" stroke-width="0.6" />
<line x1="677.8" y1="68" x2="677.8" y2="201" stroke="#333" stroke-width="0.9" />
<line x1="698.4" y1="67.8" x2="707.7" y2="67.8" stroke="#444" stroke-width="0.9" />
<line x1="698.4" y1="67.8" x2="698.4" y2="128.5" stroke="#333" stroke-width="0.8" />
<circle cx="698.4" cy="90.2" r="4.3" stroke="#222" stroke-width="1.2" fill="none"/>
<circle cx="698.4" cy="90.2" r="2.4" stroke="#333" stroke-width="0.9" fill="none"/>
<ellipse cx="698.4" cy="106.2" rx="4.1" ry="3.4" stroke="#1e1e1e" stroke-width="1.2" fill="#fff"/>
<line x1="696.3" y1="105.4" x2="700.5" y2="105.4" stroke="#444" stroke-width="0.7" />
<line x1="696.3" y1="107" x2="700.5" y2="107" stroke="#444" stroke-width="0.7" />
<ellipse cx="698.4" cy="119" rx="2.9" ry="4.4" stroke="#333" stroke-width="1.0" fill="#fff"/>
<line x1="678" y1="128.5" x2="708" y2="128.5" stroke="#333" stroke-width="0.9" />
<path d="M698.4,128.5 L707.7,133" stroke="#555" stroke-width="0.7" fill="none" />
<line x1="678" y1="132.2" x2="708" y2="132.2" stroke="#444" stroke-width="0.9" />
<rect x="721.4" y="72.9" width="25.2" height="38.7" fill="#5a5a5a" stroke="#222" stroke-width="0.9" rx="0" />
<rect x="723.0" y="74.2" width="1.6" height="36.1" fill="#cfcfcf" stroke="none" stroke-width="0" rx="0" />
<rect x="727.5" y="74.2" width="1.2" height="36.1" fill="#cfcfcf" stroke="none" stroke-width="0" rx="0" />
<rect x="731.0" y="74.2" width="1.4" height="36.1" fill="#cfcfcf" stroke="none" stroke-width="0" rx="0" />
<rect x="735.3" y="74.2" width="1.5" height="36.1" fill="#cfcfcf" stroke="none" stroke-width="0" rx="0" />
<rect x="739.5" y="74.2" width="1.3" height="36.1" fill="#cfcfcf" stroke="none" stroke-width="0" rx="0" />
<rect x="742.8" y="74.2" width="1.0" height="36.1" fill="#cfcfcf" stroke="none" stroke-width="0" rx="0" />
<line x1="721.4" y1="73.4" x2="746.6" y2="73.4" stroke="#222" stroke-width="1.6" />
<line x1="721.4" y1="111.1" x2="746.6" y2="111.1" stroke="#222" stroke-width="1.6" />
<line x1="745.5" y1="73" x2="745.5" y2="111.5" stroke="#222" stroke-width="1.2" />
<rect x="746.6" y="72" width="3.1" height="40.9" fill="#fff" stroke="#444" stroke-width="0.8" rx="0" />
<line x1="748.2" y1="85" x2="748.2" y2="100" stroke="#888" stroke-width="0.6" />
<line x1="746.6" y1="85" x2="749.7" y2="85" stroke="#888" stroke-width="0.6" />
<line x1="746.6" y1="100" x2="749.7" y2="100" stroke="#888" stroke-width="0.6" />
<path d="M677.8,132.2 L677.8,198 Q677.8,200.5 680.3,200.5 L708,200.5" stroke="#333" stroke-width="0.9" fill="none" />
<line x1="696.4" y1="132.2" x2="696.4" y2="217.6" stroke="#444" stroke-width="0.8" />
<line x1="698" y1="155.4" x2="698" y2="200.5" stroke="#888" stroke-width="0.6" />
<line x1="696.4" y1="155.4" x2="706" y2="155.4" stroke="#444" stroke-width="0.8" />
<line x1="698" y1="157" x2="706" y2="157" stroke="#888" stroke-width="0.6" />
<line x1="705.2" y1="134" x2="707.8" y2="135.5" stroke="#666" stroke-width="0.7" />
<line x1="705.2" y1="137" x2="707.8" y2="138.5" stroke="#666" stroke-width="0.7" />
<line x1="705.2" y1="140" x2="707.8" y2="141.5" stroke="#666" stroke-width="0.7" />
<line x1="705.2" y1="143" x2="707.8" y2="144.5" stroke="#666" stroke-width="0.7" />
<line x1="705.2" y1="146" x2="707.8" y2="147.5" stroke="#666" stroke-width="0.7" />
<line x1="705.2" y1="149" x2="707.8" y2="150.5" stroke="#666" stroke-width="0.7" />
<line x1="705.2" y1="152" x2="707.8" y2="153.5" stroke="#666" stroke-width="0.7" />
<line x1="705.2" y1="155" x2="707.8" y2="156.5" stroke="#666" stroke-width="0.7" />
<line x1="705.2" y1="132.5" x2="705.2" y2="155" stroke="#888" stroke-width="0.6" />
<line x1="677.8" y1="201.7" x2="708" y2="201.7" stroke="#444" stroke-width="0.9" />
<line x1="677.8" y1="205.7" x2="708" y2="205.7" stroke="#444" stroke-width="0.9" />
<line x1="677.8" y1="201.7" x2="677.8" y2="205.7" stroke="#444" stroke-width="0.9" />
<line x1="680.4" y1="205.7" x2="680.4" y2="212" stroke="#444" stroke-width="0.9" />
<line x1="680.4" y1="212" x2="708" y2="212" stroke="#444" stroke-width="0.9" />
<path d="M686,212 L686,217.6 L706,217.6 L706,212" stroke="#555" stroke-width="0.8" fill="none" />
<line x1="686.6" y1="217.6" x2="686.6" y2="293" stroke="#333" stroke-width="0.9" />
<line x1="705.6" y1="217.6" x2="705.6" y2="293" stroke="#333" stroke-width="0.9" />
<line x1="686.6" y1="293.1" x2="705.6" y2="293.1" stroke="#222" stroke-width="1.2" />
<line x1="686.6" y1="295.4" x2="705.6" y2="295.4" stroke="#222" stroke-width="1.2" />
<path d="M686.8,295.5 L686.8,308 C686.8,318.5 695,326.8 706,326.8" stroke="#333" stroke-width="0.9" fill="none" />
<path d="M696.4,308.8 C697.3,313.5 701,317.2 706,317.4" stroke="#444" stroke-width="0.8" fill="none" />
<line x1="696.4" y1="308.8" x2="706" y2="308.8" stroke="#666" stroke-width="0.7" />
<line x1="706" y1="295.5" x2="706" y2="327" stroke="#888" stroke-width="0.7" />
<path d="M721.4,309.2 L756.2,309.2 L756.2,306 L782.3,306.5 L782.3,309.2 L792.5,309.2 Q793.5,309.2 793.5,312 L793.5,325 Q793.5,327.5 792.5,327.5 L782.3,327.5 L782.3,330 L768,330" stroke="#333" stroke-width="0.9" fill="none" />
<line x1="756.2" y1="306" x2="756.2" y2="327" stroke="#444" stroke-width="0.8" />
<line x1="721.4" y1="327.1" x2="757" y2="327.1" stroke="#333" stroke-width="0.9" />
<line x1="721.4" y1="331.5" x2="757" y2="331.5" stroke="#333" stroke-width="0.9" />
<rect x="757" y="326.2" width="4.8" height="5.8" fill="none" stroke="#333" stroke-width="0.8" rx="0" />
<rect x="761.8" y="327.4" width="6" height="3.6" fill="none" stroke="#555" stroke-width="0.6" rx="0" />
<path d="M721.4,350.4 L752.7,350.4 L761.5,342.7 L761.5,342 L769.5,342 L769.5,389.8 L761.5,389.8 L761.5,389 L752.7,381.4 L721.4,381.4" stroke="#333" stroke-width="0.9" fill="none" />
<line x1="752.7" y1="350.4" x2="752.7" y2="381.4" stroke="#444" stroke-width="0.7" />
<rect x="769.5" y="350.7" width="3.2" height="33" fill="none" stroke="#444" stroke-width="0.7" rx="0" />
<path d="M772.7,347 L792.5,346.7 Q793.5,346.7 793.5,349 L793.5,382 Q793.5,384.2 792.5,384.2 L772.7,384" stroke="#333" stroke-width="0.9" fill="none" />
<path d="M667.7,434.6 L667.7,384 C667.7,362 682,352 701.2,350 L704.5,343.5 L708,339.4" stroke="#222" stroke-width="0.9" fill="none" />
<line x1="697.4" y1="379.7" x2="697.4" y2="434.6" stroke="#222" stroke-width="0.9" />
<line x1="697.4" y1="379.7" x2="701.2" y2="379.7" stroke="#222" stroke-width="0.8" />
<line x1="701.4" y1="350.5" x2="701.4" y2="385.4" stroke="#222" stroke-width="1.3" />
<line x1="703.2" y1="352" x2="703.2" y2="384" stroke="#333" stroke-width="0.8" />
<rect x="704" y="357.6" width="4" height="2.9" fill="none" stroke="#444" stroke-width="0.7" rx="0" />
<path d="M704,370 L706.5,373 L706.5,384 L704,385.4" stroke="#333" stroke-width="0.8" fill="none" />
<line x1="701.4" y1="385.4" x2="708" y2="385.4" stroke="#444" stroke-width="0.8" />
<line x1="329.1" y1="520" x2="329.1" y2="535.5" stroke="#6a6a6a" stroke-width="0.7" />
<line x1="417.1" y1="520" x2="417.1" y2="535.5" stroke="#6a6a6a" stroke-width="0.7" />
<line x1="329.1" y1="523.2" x2="417.1" y2="523.2" stroke="#6a6a6a" stroke-width="0.8" />
<polygon points="329.1,523.2 336.4,521.3 336.4,525.1" fill="#111"/>
<polygon points="417.1,523.2 409.8,521.3 409.8,525.1" fill="#111"/>
<text transform="translate(359.74,518.61) scale(1.056,1)" font-family="Liberation Mono" font-size="13.60">210</text>
<rect x="329.1" y="535.6" width="88" height="57.1" fill="none" stroke="#1a1a1a" stroke-width="1.3" rx="0.8" />
<circle cx="360.4" cy="567.9" r="14.8" stroke="#333" stroke-width="1.1" fill="none"/>
<circle cx="389.8" cy="571.9" r="10.2" stroke="#333" stroke-width="1.1" fill="none"/>
<line x1="417.1" y1="535.5" x2="442.6" y2="535.5" stroke="#6a6a6a" stroke-width="0.7" />
<line x1="417.1" y1="593.5" x2="442.6" y2="593.5" stroke="#6a6a6a" stroke-width="0.7" />
<line x1="439.7" y1="535.5" x2="439.7" y2="593.5" stroke="#6a6a6a" stroke-width="0.8" />
<polygon points="439.7,535.5 437.8,542.8 441.6,542.8" fill="#111"/>
<polygon points="439.7,593.5 437.8,586.2 441.6,586.2" fill="#111"/>
<text transform="translate(436.65,576.80) rotate(-90) scale(0.962,1)" font-family="Liberation Mono" font-size="14.85">138</text>
<rect x="483.6" y="535.6" width="5.2" height="57.6" fill="none" stroke="#333" stroke-width="0.9" rx="0.8" />
<line x1="483.9" y1="536.5" x2="483.9" y2="592.5" stroke="#222" stroke-width="1.6" />
<line x1="484" y1="536.2" x2="488.4" y2="536.2" stroke="#999" stroke-width="1.2" />
<line x1="483.6" y1="519.2" x2="483.6" y2="535.5" stroke="#6a6a6a" stroke-width="0.7" />
<line x1="488.8" y1="519.2" x2="488.8" y2="535.5" stroke="#6a6a6a" stroke-width="0.7" />
<line x1="465.6" y1="523.4" x2="513.5" y2="523.4" stroke="#6a6a6a" stroke-width="0.7" />
<polygon points="483.6,523.4 476.3,521.5 476.3,525.3" fill="#111"/>
<polygon points="488.8,523.4 496.1,521.5 496.1,525.3" fill="#111"/>
<text transform="translate(496.92,520.46) scale(1.014,1)" font-family="Liberation Mono" font-size="13.82">10</text>
<path d="M489,552.4 L496.3,552.4 L496.3,583.7 L490,583.7" stroke="#444" stroke-width="0.8" fill="none" />
<line x1="496.5" y1="553" x2="496.5" y2="560" stroke="#222" stroke-width="1.6" />
<line x1="496.5" y1="575" x2="496.5" y2="581" stroke="#222" stroke-width="1.6" />
<path d="M496.3,556.3 L514.7,556.3 L514.7,560.2" stroke="#555" stroke-width="0.8" fill="none" />
<line x1="496.3" y1="561.9" x2="518.6" y2="561.9" stroke="#333" stroke-width="1.3" />
<line x1="496.3" y1="566.4" x2="514.7" y2="566.4" stroke="#666" stroke-width="0.8" />
<rect x="514.7" y="560.2" width="4.6" height="6.6" fill="none" stroke="#666" stroke-width="0.6" rx="0" />
<line x1="519.3" y1="562" x2="519.3" y2="578.7" stroke="#555" stroke-width="0.8" />
<line x1="496.3" y1="578.7" x2="519.3" y2="578.7" stroke="#333" stroke-width="1.1" />
<path d="M490,587 L514.7,587 L514.7,578.7" stroke="#555" stroke-width="0.8" fill="none" />
</svg>
</body></html>
